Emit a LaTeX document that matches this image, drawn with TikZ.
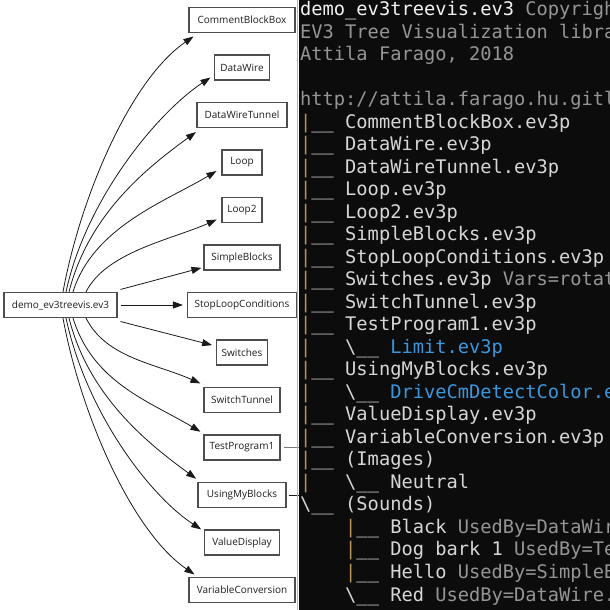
\documentclass[tikz,border=0pt]{standalone}
\usepackage{fontspec}
\setmainfont{Open Sans}
\newfontfamily\termfont{DejaVu Sans Mono}
\usetikzlibrary{arrows.meta}
\definecolor{boxc}{HTML}{4D4D4D}
\definecolor{nodetext}{HTML}{1E1E1E}
\definecolor{edgec}{HTML}{1A1A1A}
\definecolor{termbg}{HTML}{0C0C0C}
\definecolor{tfg}{HTML}{D6D6D6}
\definecolor{tbright}{HTML}{F2F2F2}
\definecolor{tdim}{HTML}{959595}
\definecolor{tblue}{HTML}{3A96DD}
\definecolor{tpipe}{HTML}{B8925A}
\definecolor{sepc}{HTML}{B4B4B4}
\definecolor{tpline}{HTML}{7A7A7A}
\newcommand\tpipe{{\color{tpipe}\textbar}}
\newcommand\tbsl{\textbackslash}
\begin{document}
\begin{tikzpicture}[x=1pt,y=1pt,
  box/.style={draw=boxc, line width=1.1pt, minimum height=25pt, inner sep=0pt,
    font=\fontsize{10}{12}\selectfont, text=nodetext},
  edge/.style={draw=edgec, line width=0.8pt, -{Triangle[length=10pt,width=7pt]}},
  trow/.style={anchor=base west, inner sep=0pt,
    font=\termfont\fontsize{18.7}{22.5}\selectfont, text=tfg}]
\useasboundingbox (0,0) rectangle (610,610);
\fill[white] (0,0) rectangle (610,610);

% graph nodes
\node[box, minimum width=113pt] (demo) at (60.5,305) {demo\_ev3treevis.ev3};
\node[box, minimum width=106pt] (cbb) at (242,590) {CommentBlockBox};
\node[box, minimum width=55pt] (dw) at (242,542.5) {DataWire};
\node[box, minimum width=90pt] (dwt) at (242,495) {DataWireTunnel};
\node[box, minimum width=40pt] (loop) at (242,447.5) {Loop};
\node[box, minimum width=40pt] (loopb) at (242,400) {Loop2};
\node[box, minimum width=76pt] (sb) at (242,352.5) {SimpleBlocks};
\node[box, minimum width=109pt] (slc) at (242,305) {StopLoopConditions};
\node[box, minimum width=51pt] (sw) at (242,257.5) {Switches};
\node[box, minimum width=76pt] (st) at (242,210) {SwitchTunnel};
\node[box, minimum width=76pt] (tp) at (242,162.5) {TestProgram1};
\node[box, minimum width=88pt] (umb) at (242,115) {UsingMyBlocks};
\node[box, minimum width=75pt] (vd) at (242,67.5) {ValueDisplay};
\node[box, minimum width=106pt] (vc) at (242,20) {VariableConversion};

% edges
\draw[edge] ([xshift=2.5pt]demo.north) .. controls +(17,93) and +(-64,-44) .. ([shift={(5pt,-3.5pt)}]cbb.south west);
\draw[edge] ([xshift=5.5pt]demo.north) .. controls +(20,93) and +(-53,-35) .. ([shift={(-3.5pt,3pt)}]dw.south west);
\draw[edge] ([xshift=8.5pt]demo.north) .. controls +(20,80) and +(-45,-33) .. ([shift={(-0.5pt,-4pt)}]dwt.south west);
\draw[edge] ([xshift=12.5pt]demo.north) .. controls +(20,65) and +(-50,-30) .. ([shift={(-5pt,4.5pt)}]loop.south west);
\draw[edge] ([xshift=25.5pt]demo.north) .. controls +(20,40) and +(-45,-20) .. ([shift={(-4.7pt,3.5pt)}]loopb.south west);
\draw[edge] ([shift={(3pt,2.5pt)}]demo.north east) -- ([shift={(-2pt,2.7pt)}]sb.south west);
\draw[edge] ([xshift=3pt]demo.east) -- ([xshift=-4pt]slc.west);
\draw[edge] ([shift={(3pt,-3.5pt)}]demo.south east) -- ([shift={(-3.8pt,-5.7pt)}]sw.north west);
\draw[edge] ([xshift=25.5pt]demo.south) .. controls +(20,-40) and +(-45,20) .. ([shift={(-3pt,3.5pt)}]st.north west);
\draw[edge] ([xshift=12.5pt]demo.south) .. controls +(20,-65) and +(-50,30) .. ([shift={(-3pt,2.7pt)}]tp.north west);
\draw[edge] ([xshift=8.5pt]demo.south) .. controls +(20,-80) and +(-45,33) .. ([shift={(-1.3pt,3.2pt)}]umb.north west);
\draw[edge] ([xshift=5.5pt]demo.south) .. controls +(20,-93) and +(-53,35) .. ([shift={(-2.8pt,0pt)}]vd.north west);
\draw[edge] ([xshift=2.5pt]demo.south) .. controls +(17,-93) and +(-64,44) .. ([shift={(6pt,2.5pt)}]vc.north west);

% edges leaving under the console
\coordinate (tpout) at (300,162.5);
\coordinate (umbout) at (300,115);
\draw[tpline, line width=0.8pt] ([xshift=3pt]tp.east) -- (tpout);
\draw[edgec, line width=0.8pt] ([xshift=2pt]umb.east) -- (umbout);

% console window
\draw[sepc, line width=1pt] (297.5,0) -- (297.5,610);
\fill[termbg] (299,0) rectangle (610,610);
\begin{scope}
\clip (299,0) rectangle (610,610);
\node[trow] (r0) at (300,594) {{\color{tbright}demo\_ev3treevis.ev3}{\color{tdim}\ Copyrigh}};
\node[trow, text=tdim] (r1) at (300,571.5) {EV3 Tree Visualization libra};
\node[trow, text=tdim] (r2) at (300,549) {Attila Farago, 2018};
\node[trow, text=tdim] (r4) at (300,504) {http://attila.farago.hu.gitl};
\node[trow] (r5) at (300,481.5) {\tpipe\_\_\ CommentBlockBox.ev3p};
\node[trow] (r6) at (300,459) {\tpipe\_\_\ DataWire.ev3p};
\node[trow] (r7) at (300,436.5) {\tpipe\_\_\ DataWireTunnel.ev3p};
\node[trow] (r8) at (300,414) {\tpipe\_\_\ Loop.ev3p};
\node[trow] (r9) at (300,391.5) {\tpipe\_\_\ Loop2.ev3p};
\node[trow] (r10) at (300,369) {\tpipe\_\_\ SimpleBlocks.ev3p};
\node[trow] (r11) at (300,346.5) {\tpipe\_\_\ StopLoopConditions.ev3p};
\node[trow] (r12) at (300,324) {\tpipe\_\_\ Switches.ev3p{\color{tdim}\ Vars=rotat}};
\node[trow] (r13) at (300,301.5) {\tpipe\_\_\ SwitchTunnel.ev3p};
\node[trow] (r14) at (300,279) {\tpipe\_\_\ TestProgram1.ev3p};
\node[trow] (r15) at (300,256.5) {\tpipe\ \ \ \tbsl\_\_\ {\color{tblue}Limit.ev3p}};
\node[trow] (r16) at (300,234) {\tpipe\_\_\ UsingMyBlocks.ev3p};
\node[trow] (r17) at (300,211.5) {\tpipe\ \ \ \tbsl\_\_\ {\color{tblue}DriveCmDetectColor.e}};
\node[trow] (r18) at (300,189) {\tpipe\_\_\ ValueDisplay.ev3p};
\node[trow] (r19) at (300,166.5) {\tpipe\_\_\ VariableConversion.ev3p};
\node[trow] (r20) at (300,144) {\tpipe\_\_\ (Images)};
\node[trow] (r21) at (300,121.5) {\tpipe\ \ \ \tbsl\_\_\ Neutral};
\node[trow] (r22) at (300,99) {\tbsl\_\_\ (Sounds)};
\node[trow] (r23) at (300,76.5) {\ \ \ \ \tpipe\_\_\ Black{\color{tdim}\ UsedBy=DataWir}};
\node[trow] (r24) at (300,54) {\ \ \ \ \tpipe\_\_\ Dog bark 1{\color{tdim}\ UsedBy=Te}};
\node[trow] (r25) at (300,31.5) {\ \ \ \ \tpipe\_\_\ Hello{\color{tdim}\ UsedBy=SimpleB}};
\node[trow] (r26) at (300,9) {\ \ \ \ \tbsl\_\_\ Red{\color{tdim}\ UsedBy=DataWire.}};
\end{scope}
\end{tikzpicture}
\end{document}
